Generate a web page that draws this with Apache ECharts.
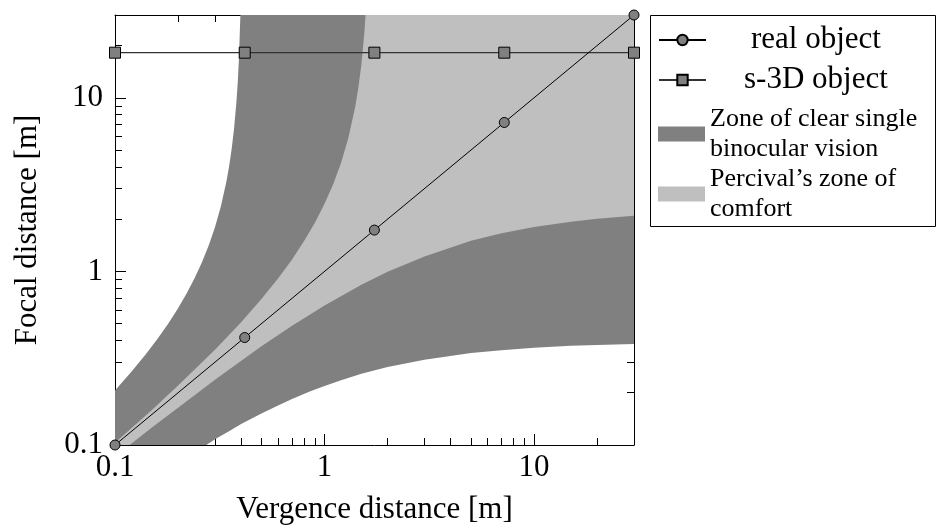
<!DOCTYPE html>
<html>
<head>
<meta charset="utf-8">
<title>Vergence vs focal distance</title>
<script src="https://cdn.jsdelivr.net/npm/echarts@6/dist/echarts.min.js"></script>
<style>
  html, body { margin: 0; background: #fff; }
  #chart { width: 938px; height: 528px; }
</style>
</head>
<body>
<div id="chart"></div>
<script>
// axis range, both axes log10 in metres
const AXIS_MIN = 0.1;
const AXIS_MAX = 30;
const majorTicks = [0.1, 1, 10];
const minorTicks = [0.2, 0.3, 0.4, 0.5, 0.6, 0.7, 0.8, 0.9, 2, 3, 4, 5, 6, 7, 8, 9, 20];

// markers (vergence distance, focal distance)
const objectX = [0.1, 0.416, 1.73, 7.21, 30];
const realFocal = [0.1, 0.416, 1.73, 7.21, 30];
const s3dFocal = [18.2, 18.2, 18.2, 18.2, 18.2];

// zone of clear single binocular vision, far and near limits
const zcsbvFarX = [0.1, 0.12, 0.14, 0.16, 0.18, 0.2, 0.22, 0.24, 0.26, 0.28, 0.3, 0.32, 0.34, 0.35, 0.36, 0.37, 0.38, 0.385, 0.39, 0.3967];
const zcsbvFarY = [0.206, 0.265, 0.332, 0.411, 0.503, 0.613, 0.748, 0.915, 1.128, 1.408, 1.795, 2.367, 3.29, 4.0, 5.03, 6.64, 9.55, 12.1, 16.3, 30];
const zcsbvNearX = [0.273, 0.3, 0.35, 0.4, 0.5, 0.6, 0.7, 0.85, 1, 1.2, 1.5, 2, 3, 5, 7, 10, 15, 20, 30];
const zcsbvNearY = [0.1, 0.108, 0.120, 0.132, 0.152, 0.169, 0.184, 0.203, 0.219, 0.236, 0.257, 0.281, 0.310, 0.339, 0.352, 0.363, 0.373, 0.377, 0.382];

// Percival's zone of comfort
const percFarX = [0.1, 0.15, 0.2, 0.3, 0.4, 0.5, 0.6, 0.7, 0.8, 0.9, 1.0, 1.1, 1.2, 1.3, 1.4, 1.45, 1.5, 1.55, 1.57];
const percFarY = [0.103, 0.159, 0.220, 0.354, 0.510, 0.693, 0.910, 1.17, 1.50, 1.91, 2.45, 3.18, 4.23, 5.88, 8.83, 11.4, 15.6, 23.9, 30];
const percNearX = [0.1175, 0.15, 0.2, 0.3, 0.5, 0.7, 1, 1.5, 2, 3, 5, 7, 10, 15, 20, 30];
const percNearY = [0.1, 0.126, 0.164, 0.238, 0.370, 0.487, 0.637, 0.837, 0.994, 1.22, 1.50, 1.66, 1.80, 1.93, 2.01, 2.09];

const NAME_REAL = 'real object';
const NAME_S3D = 's-3D object';
const NAME_ZCSBV = 'Zone of clear single\nbinocular vision';
const NAME_PERC = 'Percival\u2019s zone of\ncomfort';

const FONT = "'Liberation Serif', 'DejaVu Serif', serif";
const DARK = '#808080';
const LIGHT = '#bfbfbf';

const zip = (xs, ys) => xs.map((x, i) => [x, ys[i]]);

// outline: far limit left->right, top-right corner, near limit right->left, bottom-left corner
const outline = (farX, farY, nearX, nearY) =>
  zip(farX, farY)
    .concat([[AXIS_MAX, AXIS_MAX]])
    .concat(zip(nearX, nearY).reverse())
    .concat([[AXIS_MIN, AXIS_MIN]]);

const zcsbvOutline = outline(zcsbvFarX, zcsbvFarY, zcsbvNearX, zcsbvNearY);
const percOutline = outline(percFarX, percFarY, percNearX, percNearY);

const fmt = v => (v < 1 ? v.toFixed(1) : String(Math.round(v)));

function logAxis(extra) {
  return Object.assign({
    type: 'log',
    logBase: 10,
    min: AXIS_MIN,
    max: AXIS_MAX,
    splitLine: { show: false },
    minorTick: { show: false },
    axisLine: { show: false },
    axisTick: { show: false },
    axisLabel: { show: false }
  }, extra);
}

const majorTick = len => ({ show: true, inside: true, length: len, customValues: majorTicks, lineStyle: { color: '#000', width: 1 } });
const minorTickCfg = len => ({ show: true, inside: true, length: len, customValues: minorTicks, lineStyle: { color: '#000', width: 1 } });
const frameLine = { show: true, lineStyle: { color: '#000', width: 1 } };
const tickLabel = margin => ({
  show: true, customValues: majorTicks, formatter: fmt, margin,
  fontFamily: FONT, fontSize: 31, color: '#000'
});
const nameStyle = { fontFamily: FONT, fontSize: 31, color: '#000', lineHeight: 31 };

function zoneSeries(name, pts, color) {
  return {
    type: 'custom',
    name,
    coordinateSystem: 'cartesian2d',
    xAxisIndex: 0,
    yAxisIndex: 0,
    data: pts,
    encode: { x: 0, y: 1 },
    clip: true,
    silent: true,
    z: 1,
    itemStyle: { color },
    renderItem: (params, api) => {
      if (params.dataIndex !== 0) return null;
      return {
        type: 'polygon',
        shape: { points: pts.map(p => api.coord(p)) },
        style: { fill: color, stroke: null }
      };
    }
  };
}

const chart = echarts.init(document.getElementById('chart'), null, { renderer: 'canvas' });

chart.setOption({
  animation: false,
  backgroundColor: '#fff',
  grid: { left: 115, top: 15, width: 519, height: 430, outerBoundsMode: 'none' },
  xAxis: [
    logAxis({
      position: 'bottom', axisLine: frameLine, axisTick: majorTick(11), axisLabel: tickLabel(7),
      name: 'Vergence distance [m]', nameLocation: 'middle', nameGap: 49, nameTextStyle: nameStyle
    }),
    logAxis({ position: 'bottom', axisTick: minorTickCfg(7) }),
    logAxis({ position: 'top', axisLine: frameLine, axisTick: majorTick(11) }),
    logAxis({ position: 'top', axisTick: minorTickCfg(7) })
  ],
  yAxis: [
    logAxis({
      position: 'left', axisLine: frameLine, axisTick: majorTick(11), axisLabel: tickLabel(12),
      name: 'Focal distance [m]', nameLocation: 'middle', nameGap: 72, nameTextStyle: nameStyle
    }),
    logAxis({ position: 'left', axisTick: minorTickCfg(7) }),
    logAxis({ position: 'right', axisLine: frameLine, axisTick: majorTick(11) }),
    logAxis({ position: 'right', axisTick: minorTickCfg(7) })
  ],
  legend: [
    {
      orient: 'vertical', left: 658, top: 23, padding: 0,
      itemWidth: 47, itemHeight: 13, itemGap: 6, selectedMode: false,
      textStyle: { fontFamily: FONT, fontSize: 31, color: '#000', lineHeight: 34 },
      data: [
        { name: NAME_REAL, textStyle: { padding: [0, 0, 0, 40] } },
        { name: NAME_S3D, textStyle: { padding: [0, 0, 0, 33] } }
      ]
    },
    {
      orient: 'vertical', left: 658, top: 104, padding: 0,
      itemWidth: 47, itemHeight: 15, itemGap: 0, selectedMode: false,
      textStyle: { fontFamily: FONT, fontSize: 26, color: '#000', lineHeight: 30 },
      data: [
        { name: NAME_ZCSBV, icon: 'rect' },
        { name: NAME_PERC, icon: 'rect' }
      ]
    }
  ],
  graphic: [
    {
      type: 'rect', z: 10, silent: true,
      shape: { x: 650.5, y: 15.5, width: 285, height: 211 },
      style: { fill: 'none', stroke: '#000', lineWidth: 1 }
    }
  ],
  series: [
    zoneSeries(NAME_ZCSBV, zcsbvOutline, DARK),
    zoneSeries(NAME_PERC, percOutline, LIGHT),
    {
      type: 'line', name: NAME_S3D, z: 3,
      data: zip(objectX, s3dFocal),
      symbol: 'rect', symbolSize: 11, showAllSymbol: true, clip: false,
      lineStyle: { color: '#333', width: 1.3 },
      itemStyle: { color: DARK, borderColor: '#000', borderWidth: 1 }
    },
    {
      type: 'line', name: NAME_REAL, z: 4,
      data: zip(objectX, realFocal),
      symbol: 'circle', symbolSize: 10, showAllSymbol: true, clip: false,
      lineStyle: { color: '#000', width: 1 },
      itemStyle: { color: DARK, borderColor: '#000', borderWidth: 1 }
    }
  ]
});
</script>
</body>
</html>
